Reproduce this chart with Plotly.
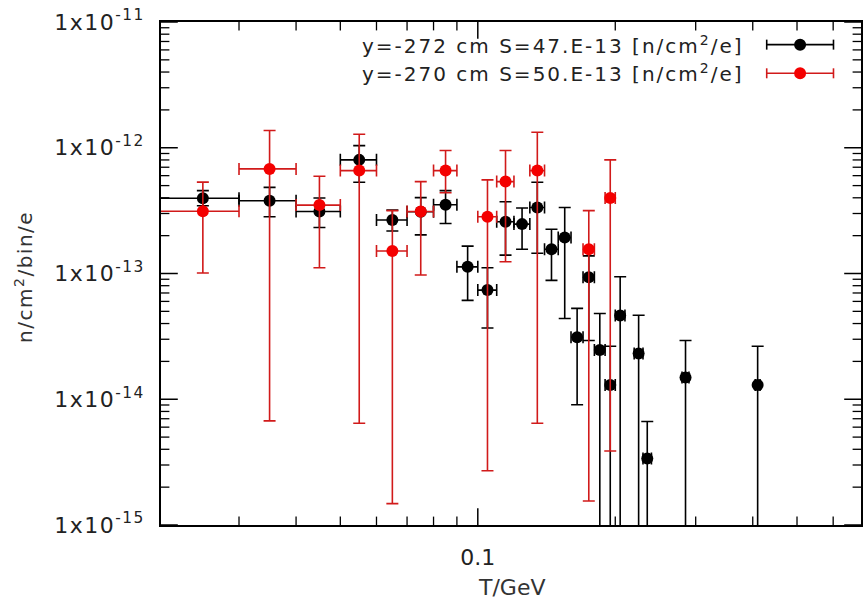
import plotly.graph_objects as go

# ---- data: black series (y=-272 cm) ----
bk_x = [0.025, 0.035, 0.045, 0.055, 0.065, 0.075, 0.085, 0.095, 0.105, 0.115, 0.125, 0.135,
        0.145, 0.155, 0.165, 0.175, 0.185, 0.195, 0.205, 0.225, 0.235, 0.285, 0.41]
bk_xlo = [0.02, 0.03, 0.04, 0.05, 0.06, 0.07, 0.08, 0.09, 0.10, 0.11, 0.12, 0.13,
          0.14, 0.15, 0.16, 0.17, 0.18, 0.19, 0.20, 0.22, 0.23, 0.28, 0.405]
bk_xhi = [0.03, 0.04, 0.05, 0.06, 0.07, 0.08, 0.09, 0.10, 0.11, 0.12, 0.13, 0.14,
          0.15, 0.16, 0.17, 0.18, 0.19, 0.20, 0.21, 0.23, 0.24, 0.29, 0.415]
bk_y = [3.97e-13, 3.79e-13, 3.11e-13, 8.01e-13, 2.66e-13, 3.10e-13, 3.52e-13, 1.13e-13, 7.38e-14,
        2.58e-13, 2.47e-13, 3.35e-13, 1.56e-13, 1.93e-13, 3.11e-14, 9.32e-14, 2.46e-14, 1.30e-14,
        4.64e-14, 2.31e-14, 3.38e-15, 1.49e-14, 1.30e-14]
bk_yhi = [4.56e-13, 4.84e-13, 3.99e-13, 1.04e-12, 3.20e-13, 4.01e-13, 4.56e-13, 1.65e-13, 1.11e-13,
          3.72e-13, 3.32e-13, 5.31e-13, 2.25e-13, 3.35e-13, 5.28e-14, 1.38e-13, 4.81e-14, 2.64e-14,
          9.43e-14, 4.66e-14, 6.65e-15, 2.93e-14, 2.64e-14]
bk_ylo = [3.46e-13, 2.83e-13, 2.32e-13, 5.31e-13, 2.18e-13, 2.03e-13, 2.50e-13, 6.11e-14, 3.69e-14,
          1.40e-13, 1.56e-13, 1.45e-13, 8.82e-14, 4.39e-14, 9.03e-15, 2.93e-14, 0, 0,
          0, 0, 0, 0, 0]

# ---- data: red series (y=-270 cm) ----
rd_x = [0.025, 0.035, 0.045, 0.055, 0.065, 0.075, 0.085, 0.105, 0.115, 0.135, 0.175, 0.195]
rd_xlo = [0.02, 0.03, 0.04, 0.05, 0.06, 0.07, 0.08, 0.10, 0.11, 0.13, 0.17, 0.19]
rd_xhi = [0.03, 0.04, 0.05, 0.06, 0.07, 0.08, 0.09, 0.11, 0.12, 0.14, 0.18, 0.20]
rd_y = [3.13e-13, 6.79e-13, 3.50e-13, 6.58e-13, 1.51e-13, 3.11e-13, 6.58e-13, 2.83e-13, 5.38e-13,
        6.58e-13, 1.56e-13, 3.99e-13]
rd_yhi = [5.33e-13, 1.37e-12, 5.93e-13, 1.28e-12, 3.16e-13, 5.38e-13, 9.51e-13, 5.55e-13, 9.51e-13,
          1.33e-12, 3.16e-13, 8.01e-13]
rd_ylo = [1.01e-13, 6.73e-15, 1.11e-13, 6.44e-15, 1.48e-15, 9.73e-14, 4.39e-13, 2.70e-15, 1.24e-13,
          6.44e-15, 1.55e-15, 3.88e-15]

labels = ["y=-272 cm S=47.E-13 [n/cm<sup>2</sup>/e]",
          "y=-270 cm S=50.E-13 [n/cm<sup>2</sup>/e]"]
ytick_vals = [1e-15, 1e-14, 1e-13, 1e-12, 1e-11]
ytick_text = ["1x10<sup>-15</sup>", "1x10<sup>-14</sup>", "1x10<sup>-13</sup>",
              "1x10<sup>-12</sup>", "1x10<sup>-11</sup>"]
xtick_vals = [0.1]
xtick_text = ["0.1"]
y_minor_vals = [k * 10.0 ** e for e in range(-15, -11) for k in range(2, 10)]
x_minor_vals = [0.02, 0.03, 0.04, 0.05, 0.06, 0.07, 0.08, 0.09, 0.2, 0.3, 0.4, 0.5, 0.6]

FONT = "DejaVu Sans"
BLACK = "#000000"
RED_BAR = "#d11a1a"
RED_MK = "#f40000"
XRANGE = [-1.6937, -0.1609]
YRANGE = [-15, -11]


def wide(t, ls):
    return '<span style="letter-spacing:%spx">%s</span>' % (ls, t)


def series(x, xlo, xhi, y, ylo, yhi, bar, mk):
    return go.Scatter(
        x=x, y=y, mode="markers",
        marker=dict(color=mk, size=12, symbol="circle"),
        error_x=dict(type="data", symmetric=False,
                     array=[h - v for h, v in zip(xhi, x)],
                     arrayminus=[v - l for l, v in zip(xlo, x)],
                     color=bar, thickness=1.6, width=6),
        error_y=dict(type="data", symmetric=False,
                     array=[h - v for h, v in zip(yhi, y)],
                     arrayminus=[v - l for l, v in zip(ylo, y)],
                     color=bar, thickness=1.6, width=6),
        showlegend=False, cliponaxis=True,
    )


def tick_trace(xs, ys, symbol, full_len, width):
    # line markers centred on the frame; clipping keeps only the inner half -> inward ticks
    return go.Scatter(x=xs, y=ys, mode="markers", cliponaxis=True, hoverinfo="skip",
                      showlegend=False,
                      marker=dict(symbol=symbol, size=full_len, color="black",
                                  line=dict(color="black", width=width)))


fig = go.Figure()

# inward tick marks on all four sides
x_left, x_right = 10 ** XRANGE[0], 10 ** XRANGE[1]
y_bot, y_top = 10.0 ** YRANGE[0], 10.0 ** YRANGE[1]
for vals, ln, w in [(xtick_vals, 24, 1.5), (x_minor_vals, 12, 1.3)]:
    fig.add_trace(tick_trace(vals * 2, [y_bot] * len(vals) + [y_top] * len(vals),
                             "line-ns", ln, w))
for vals, ln, w in [(ytick_vals, 24, 1.5), (y_minor_vals, 12, 1.3)]:
    fig.add_trace(tick_trace([x_left] * len(vals) + [x_right] * len(vals), vals * 2,
                             "line-ew", ln, w))

fig.add_trace(series(bk_x, bk_xlo, bk_xhi, bk_y, bk_ylo, bk_yhi, BLACK, BLACK))
fig.add_trace(series(rd_x, rd_xlo, rd_xhi, rd_y, rd_ylo, rd_yhi, RED_BAR, RED_MK))

# legend: text + sample error-bar glyph drawn as shapes in paper/pixel units
leg_y = [0.955, 0.898]
leg_cx, leg_half = 0.913, 0.0477
for yy, txt, bar, mk in zip(leg_y, labels, [BLACK, RED_BAR], [BLACK, RED_MK]):
    fig.add_annotation(xref="paper", yref="paper", x=0.835, y=yy, xanchor="right",
                       yanchor="middle", text=wide(txt, 2.0), showarrow=False,
                       font=dict(family=FONT, size=20, color="#222"))
    fig.add_shape(type="line", xref="paper", yref="paper", x0=leg_cx - leg_half,
                  x1=leg_cx + leg_half, y0=yy, y1=yy, line=dict(color=bar, width=1.6))
    for ex in (leg_cx - leg_half, leg_cx + leg_half):
        fig.add_shape(type="line", xref="paper", yref="paper", ysizemode="pixel", yanchor=yy,
                      x0=ex, x1=ex, y0=-5, y1=5, line=dict(color=bar, width=1.6))
    fig.add_shape(type="circle", xref="paper", yref="paper", xsizemode="pixel",
                  ysizemode="pixel", xanchor=leg_cx, yanchor=yy, x0=-6, x1=6, y0=-6, y1=6,
                  fillcolor=mk, line=dict(color=mk, width=0))

axis_common = dict(type="log", showline=True, linecolor="black", linewidth=1.6, mirror=True,
                   ticks="", showgrid=False, zeroline=False,
                   tickfont=dict(family=FONT, size=22, color="#222"))

fig.update_layout(
    width=863, height=599,
    margin=dict(l=161, r=0, t=22, b=74),
    paper_bgcolor="white", plot_bgcolor="white",
    xaxis=dict(range=XRANGE, tickmode="array", tickvals=xtick_vals,
               ticktext=xtick_text, ticklabelstandoff=12, **axis_common),
    yaxis=dict(range=YRANGE, tickmode="array", tickvals=ytick_vals,
               ticktext=[wide(t, 1.5) for t in ytick_text], ticklabelstandoff=10,
               **axis_common),
    showlegend=False,
)

fig.add_annotation(xref="paper", yref="paper", x=0.5014, y=-0.125, xanchor="center",
                   yanchor="middle", text="T/GeV", showarrow=False,
                   font=dict(family=FONT, size=22, color="#333"))
fig.add_annotation(xref="paper", yref="paper", x=-0.1966, y=0.494, xanchor="center",
                   yanchor="middle", text=wide("n/cm<sup>2</sup>/bin/e", 1.5), showarrow=False,
                   textangle=-90, font=dict(family=FONT, size=20, color="#333"))

fig.write_html("out.html")
